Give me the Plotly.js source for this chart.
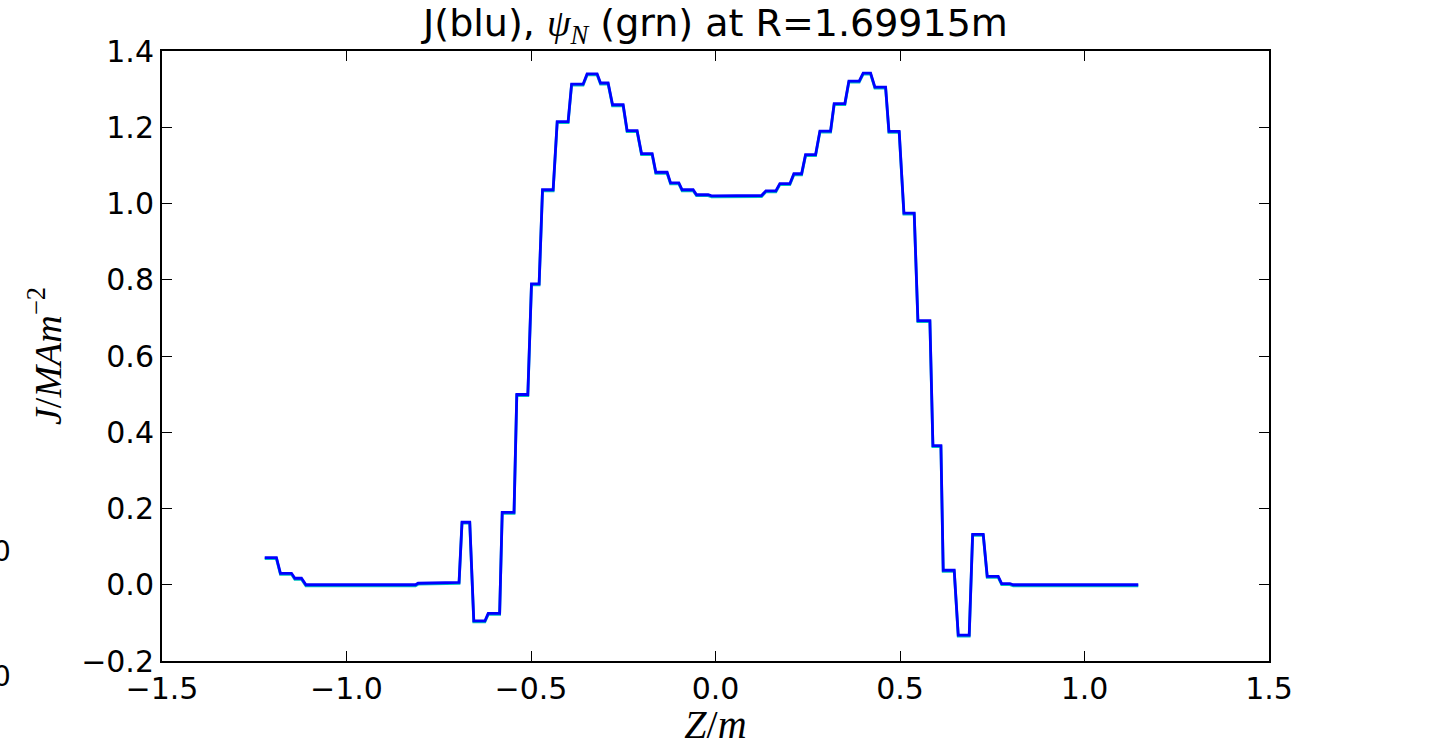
<!DOCTYPE html>
<html>
<head>
<meta charset="utf-8">
<script src="https://cdn.plot.ly/plotly-3.0.1.min.js"></script>
<style>html,body{margin:0;padding:0;background:#fff;}#chart{width:1429px;height:747px;}</style>
</head>
<body>
<div id="chart"></div>
<script>
// Z positions (m) of the J profile at R=1.69915m
const zValues = [
  -1.2216, -1.1899, -1.179, -1.149, -1.140, -1.122, -1.110, -0.813, -0.806, -0.729,
  -0.695, -0.687, -0.666, -0.655, -0.625, -0.616, -0.585, -0.578, -0.546, -0.5385,
  -0.5086, -0.4987, -0.478, -0.4688, -0.440, -0.429, -0.3994, -0.390, -0.3588, -0.348,
  -0.3208, -0.3116, -0.291, -0.279, -0.2503, -0.2395, -0.2124, -0.2005, -0.1717, -0.1617,
  -0.1311, -0.1218, -0.0993, -0.0904, -0.0606, -0.0514, -0.0199, -0.0107, 0.0842, 0.0931,
  0.1248, 0.1365, 0.1636, 0.1744, 0.2015, 0.2124, 0.2333, 0.244, 0.2712, 0.2829,
  0.3118, 0.3216, 0.3506, 0.3615, 0.3894, 0.4002, 0.4203, 0.432, 0.461, 0.470,
  0.4978, 0.5106, 0.5385, 0.5485, 0.581, 0.5892, 0.6109, 0.6171, 0.6469, 0.6578,
  0.6876, 0.6968, 0.7256, 0.7364, 0.7662, 0.7755, 0.7979, 0.8069, 1.1457
];
// Current density J (MA m^-2)
const jValues = [
  0.071, 0.071, 0.030, 0.030, 0.017, 0.017, 0.0, 0.0, 0.004, 0.005,
  0.006, 0.164, 0.164, -0.095, -0.095, -0.075, -0.075, 0.190, 0.190, 0.499,
  0.499, 0.789, 0.789, 1.036, 1.036, 1.215, 1.215, 1.313, 1.313, 1.340,
  1.340, 1.316, 1.316, 1.259, 1.259, 1.191, 1.191, 1.131, 1.131, 1.082,
  1.082, 1.054, 1.054, 1.036, 1.036, 1.023, 1.023, 1.020, 1.020, 1.021,
  1.021, 1.033, 1.033, 1.052, 1.052, 1.078, 1.078, 1.128, 1.128, 1.190,
  1.190, 1.262, 1.262, 1.321, 1.321, 1.342, 1.342, 1.305, 1.305, 1.189,
  1.189, 0.975, 0.975, 0.693, 0.693, 0.365, 0.365, 0.038, 0.038, -0.132,
  -0.132, 0.132, 0.132, 0.022, 0.022, 0.003, 0.003, 0.0, 0.0
];
const xTickVals = [-1.5, -1.0, -0.5, 0.0, 0.5, 1.0, 1.5];
const yTickVals = [-0.2, 0.0, 0.2, 0.4, 0.6, 0.8, 1.0, 1.2, 1.4];
const titleText = "J(blu), <span style=\"font-family:'Liberation Serif'\"><i>ψ</i><sub><i>N</i></sub></span> (grn) at R=1.69915m";
const xTitleText = "<i>Z</i>/<i>m</i>";
const yTitleText = "<i>J</i>/<i>MAm</i><sup>−2</sup>";
const edgeLabels = ["0", "0"];

const mathFont = "Liberation Serif, DejaVu Serif, serif";
const sansFont = "DejaVu Sans, sans-serif";

const traces = [
  // carrier trace so the main (labelled) axes are drawn
  {x: zValues, y: jValues, type: "scatter", mode: "lines", yaxis: "y",
   line: {color: "rgba(0,0,0,0)", width: 0}, hoverinfo: "skip", showlegend: false},
  {x: zValues, y: jValues, type: "scatter", mode: "lines", yaxis: "y2",
   line: {color: "#00bfbf", width: 2.8}, hoverinfo: "skip", showlegend: false},
  {x: zValues, y: jValues, type: "scatter", mode: "lines", yaxis: "y3",
   line: {color: "#0000ff", width: 2.8}, showlegend: false}
];

const axisCommon = {
  showgrid: false, zeroline: false, showline: true, linecolor: "#000", linewidth: 2,
  mirror: "ticks", ticks: "inside", ticklen: 10, tickwidth: 1, tickcolor: "#000",
  tickfont: {family: sansFont, size: 30, color: "#000"}, tickmode: "array", tickformat: ".1f"
};

const layout = {
  width: 1429, height: 747,
  margin: {l: 162, r: 160, t: 51, b: 86, pad: 0},
  paper_bgcolor: "#fff", plot_bgcolor: "#fff",
  title: {text: titleText, font: {family: sansFont, size: 38, color: "#000"},
          x: 0.5, xref: "paper", y: 0.97, yanchor: "middle"},
  xaxis: Object.assign({}, axisCommon, {
    range: [-1.5, 1.5], tickvals: xTickVals, ticklabelstandoff: 0,
    title: {text: xTitleText, font: {family: mathFont, size: 40, color: "#000"}, standoff: 0}
  }),
  yaxis: Object.assign({}, axisCommon, {
    range: [-0.2, 1.4], tickvals: yTickVals, ticklabelstandoff: 0,
    title: {text: yTitleText, font: {family: mathFont, size: 38, color: "#000"}, standoff: 8}
  }),
  yaxis2: {overlaying: "y", range: [-0.1974, 1.4026], visible: false, showgrid: false, zeroline: false},
  yaxis3: {overlaying: "y", range: [-0.2, 1.4], visible: false, showgrid: false, zeroline: false},
  annotations: [
    {text: edgeLabels[0], xref: "paper", yref: "paper", x: -0.1349, y: 0.179, xanchor: "right", yanchor: "middle",
     showarrow: false, font: {family: sansFont, size: 28, color: "#000"}},
    {text: edgeLabels[1], xref: "paper", yref: "paper", x: -0.1349, y: -0.026, xanchor: "right", yanchor: "middle",
     showarrow: false, font: {family: sansFont, size: 28, color: "#000"}}
  ],
  showlegend: false
};

Plotly.newPlot("chart", traces, layout, {displayModeBar: false, staticPlot: true});
</script>
</body>
</html>
